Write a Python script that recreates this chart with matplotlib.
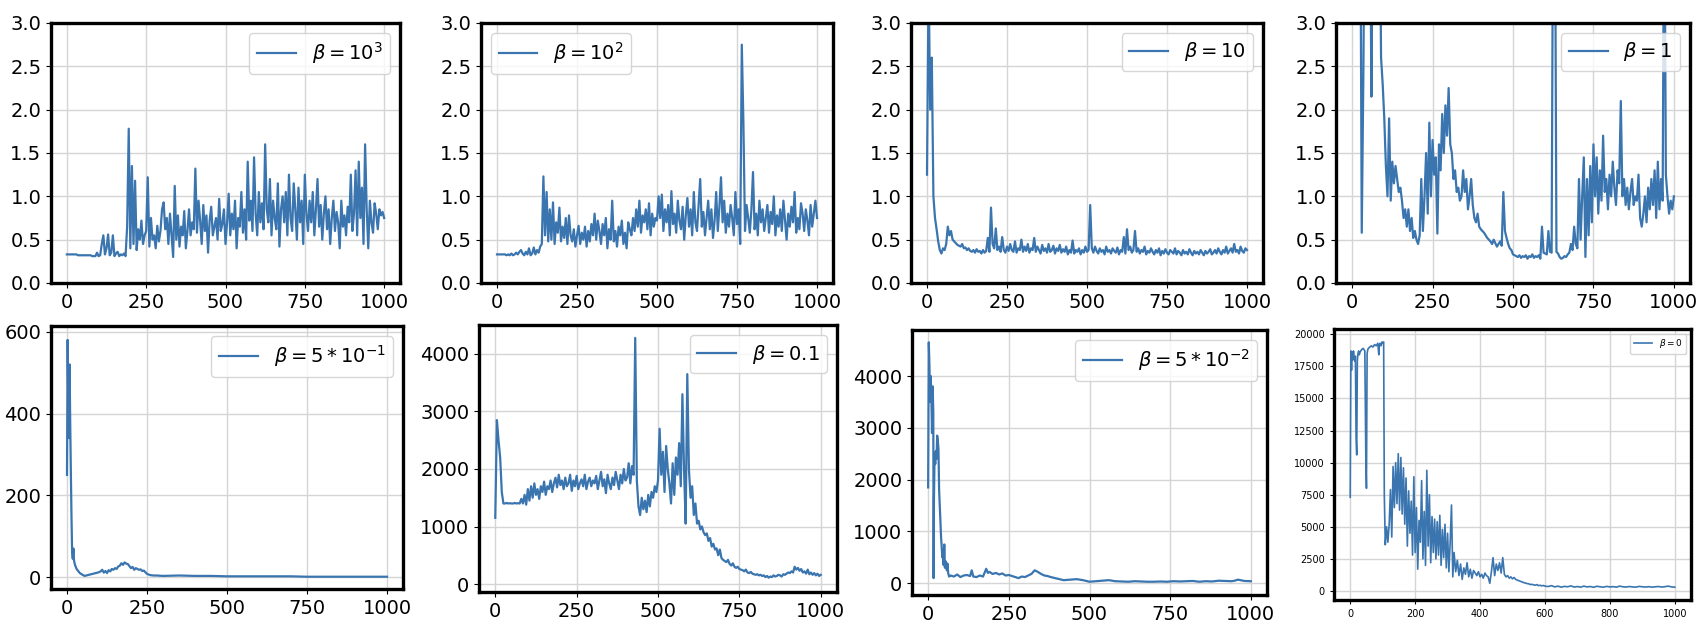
import numpy as np
import matplotlib
matplotlib.use("Agg")
import matplotlib.pyplot as plt
from matplotlib.ticker import MultipleLocator

LINE = '#3a75b0'

# ---- data (step 5 unless given explicit x) ----
labels = [r'$\beta = 10^3$', r'$\beta = 10^2$', r'$\beta = 10$', r'$\beta = 1$',
          r'$\beta = 5*10^{-1}$', r'$\beta = 0.1$', r'$\beta = 5*10^{-2}$', r'$\beta = 0$']

beta_1e3 = [0.33, 0.33, 0.33, 0.33, 0.33, 0.33, 0.33, 0.32, 0.32, 0.32, 0.32, 0.32, 0.32, 0.32, 0.32, 0.32, 0.31, 0.31, 0.31, 0.35, 0.31,
            0.32, 0.45, 0.55, 0.33, 0.40, 0.56, 0.32, 0.35, 0.55, 0.31, 0.34, 0.36, 0.31, 0.33, 0.32, 0.34, 0.31,
            0.65, 1.78, 0.40, 1.35, 0.45, 1.18, 0.38, 0.62, 0.50, 0.72, 0.45, 0.55, 0.60, 1.22, 0.42, 0.75, 0.50, 0.55, 0.40, 0.66, 0.48, 0.60, 0.85, 0.93,
            0.62, 0.75, 0.45, 0.80, 0.55, 0.30, 1.12, 0.50, 0.78, 0.42, 0.65, 0.55, 0.83, 0.40, 0.60, 0.85, 0.55, 0.70, 0.62, 1.32, 0.58, 0.95, 0.72, 0.45,
            0.90, 0.60, 0.78, 0.35, 0.72, 0.88, 0.55, 0.65, 0.75, 0.50, 0.97, 0.60, 0.68, 0.85, 0.45,
            0.70, 1.03, 0.55, 0.80, 0.62, 0.95, 0.40, 0.75, 0.65, 1.05, 0.58, 0.85, 0.50, 1.40, 0.72, 0.95, 0.60, 1.45, 0.80, 0.55,
            1.05, 0.70, 0.92, 0.62, 1.60, 0.85, 0.70, 1.20, 0.55, 0.95, 0.75, 0.62, 1.15, 0.42, 0.85, 1.00, 0.70, 1.05, 0.55, 1.25,
            0.75, 0.60, 1.15, 0.85, 0.50, 1.10, 0.70, 0.95, 0.45, 1.25, 0.80, 0.60, 0.95, 0.70, 1.05, 0.55, 0.85, 1.20, 0.65, 0.90,
            0.50, 0.80, 1.00, 0.62, 0.85, 0.45, 0.75, 0.95, 0.60, 0.82, 0.70, 0.40, 0.95, 0.65, 0.78, 0.55, 0.88, 0.70, 1.25, 0.60,
            0.80, 1.30, 0.55, 1.40, 0.75, 1.10, 0.45, 1.60, 0.85, 0.40, 0.95, 0.70, 0.58, 0.92, 0.80, 0.62, 0.85, 0.78, 0.82, 0.75]

beta_1e2 = [0.33, 0.33, 0.33, 0.33, 0.33, 0.33, 0.32, 0.33, 0.32, 0.34, 0.32, 0.33, 0.35, 0.33, 0.36, 0.38, 0.34, 0.32, 0.36, 0.33,
            0.40, 0.32, 0.34, 0.41, 0.33, 0.38, 0.35, 0.42,
            0.45, 1.23, 0.55, 1.05, 0.48, 0.85, 0.50, 0.93, 0.45, 0.70, 0.58, 0.87, 0.48, 0.65, 0.52, 0.75, 0.45, 0.78, 0.55, 0.48,
            0.62, 0.42, 0.55, 0.66, 0.45, 0.58, 0.50, 0.65, 0.42, 0.60, 0.48, 0.68, 0.55,
            0.80, 0.50, 0.72, 0.60, 0.45, 0.68, 0.55, 0.75, 0.40, 0.62, 0.50, 0.95, 0.48, 0.60, 0.42, 0.65, 0.55, 0.72, 0.45, 0.58,
            0.40, 0.70, 0.62, 0.55, 0.75, 0.60, 0.85, 0.65, 0.95, 0.58, 0.78, 0.70, 0.85, 0.62, 0.92, 0.55, 0.80, 0.65, 0.75, 0.72,
            1.00, 0.75, 1.02, 0.60, 0.85, 0.70, 0.90, 0.55, 1.06, 0.68, 0.80, 0.58, 0.95, 0.72, 0.62, 0.88, 0.50, 0.78, 0.98, 0.65,
            0.85, 0.55, 1.05, 0.70, 0.60, 0.90, 1.20, 0.65, 0.82, 0.55, 0.75, 0.95, 0.62, 0.85, 0.52, 0.72, 1.05, 0.60, 0.88, 1.22,
            0.70, 0.95, 0.58, 0.80, 0.65, 0.90, 0.75, 0.55, 1.05, 0.68, 0.85, 0.45, 2.75, 1.85, 0.60, 0.90, 0.75, 0.58, 0.85, 1.28,
            0.62, 0.80, 0.55, 0.95, 0.70, 0.85, 0.60, 0.75, 0.90, 0.58, 0.82, 0.68, 1.00, 0.55, 0.78, 0.65, 0.85, 0.60, 0.95, 0.72,
            0.50, 0.80, 0.65, 0.88, 0.70, 1.05, 0.58, 0.75, 0.62, 0.92, 0.80, 0.60, 0.85, 0.72, 0.55, 0.90, 0.65, 0.80, 0.95, 0.75]

beta_10 = [1.25, 3.5, 2.0, 2.6, 1.0, 0.75, 0.62, 0.48, 0.38, 0.34, 0.40, 0.38, 0.45, 0.65, 0.55, 0.60, 0.50, 0.48, 0.46, 0.44, 0.43,
           0.42, 0.45, 0.40, 0.41, 0.38, 0.40, 0.37, 0.36, 0.38, 0.35, 0.39, 0.36, 0.37, 0.34, 0.38, 0.35, 0.37, 0.52, 0.36, 0.87,
           0.45, 0.40, 0.63, 0.38, 0.42, 0.36, 0.53, 0.38, 0.35, 0.42, 0.37, 0.45, 0.38, 0.36, 0.48, 0.35, 0.40, 0.38, 0.50, 0.36,
           0.42, 0.37, 0.45, 0.35, 0.40, 0.38, 0.52, 0.36, 0.42, 0.38, 0.34, 0.44, 0.37, 0.40, 0.35, 0.45, 0.36, 0.38, 0.43, 0.34,
           0.40, 0.37, 0.44, 0.35, 0.39, 0.36, 0.42, 0.33, 0.38, 0.35, 0.49, 0.34, 0.38, 0.36, 0.40, 0.33, 0.38, 0.35, 0.42, 0.36,
           0.38, 0.90, 0.40, 0.35, 0.42, 0.37, 0.34, 0.40, 0.36, 0.38, 0.33, 0.42, 0.36, 0.38, 0.34, 0.40, 0.37, 0.35, 0.41, 0.33,
           0.38, 0.36, 0.53, 0.34, 0.62, 0.38, 0.42, 0.35, 0.38, 0.60, 0.36, 0.40, 0.34, 0.38, 0.36, 0.42, 0.33, 0.37, 0.35, 0.40,
           0.36, 0.33, 0.38, 0.35, 0.40, 0.32, 0.37, 0.34, 0.39, 0.35, 0.33, 0.38, 0.36, 0.34, 0.40, 0.33, 0.37, 0.35, 0.32, 0.38,
           0.34, 0.36, 0.33, 0.39, 0.35, 0.32, 0.37, 0.34, 0.36, 0.33, 0.38, 0.35, 0.32, 0.37, 0.34, 0.36, 0.39, 0.33, 0.35, 0.38,
           0.34, 0.40, 0.36, 0.33, 0.38, 0.35, 0.42, 0.34, 0.37, 0.40, 0.35, 0.45, 0.36, 0.38, 0.34, 0.42, 0.37, 0.35, 0.40, 0.38]

beta_1 = [5.0, 5.0, 5.0, 5.0, 5.0, 5.0, 0.58, 2.4, 5.0, 5.0, 5.0, 5.0, 2.15, 5.0, 5.0, 5.0, 5.0, 5.0, 2.6, 2.3, 1.9,
          1.35, 1.0, 1.9, 0.95, 1.4, 1.15, 1.35, 1.2, 1.05, 1.1, 0.95, 0.75, 0.85, 0.65, 0.85, 0.6, 0.75, 0.52, 0.6, 0.5,
          0.45, 0.55, 1.2, 0.6, 1.0, 1.5, 0.8, 1.85, 1.0, 1.65, 1.25, 1.45, 0.57, 1.6, 1.3, 1.95, 1.5, 2.05, 1.7, 2.25,
          1.6, 1.5, 1.2, 1.3, 1.05, 1.1, 0.95, 1.0, 1.3, 1.05, 1.2, 0.85, 1.0, 1.2, 0.9, 0.75, 0.7, 0.8, 0.65, 0.62,
          0.6, 0.58, 0.55, 0.52, 0.5, 0.48, 0.45, 0.5, 0.46, 0.42, 0.45, 0.48, 0.43, 1.05, 0.6, 0.52, 0.45, 0.40, 0.38, 0.33,
          0.32, 0.31, 0.30, 0.32, 0.29, 0.31, 0.30, 0.32, 0.28, 0.31, 0.30, 0.33, 0.29, 0.31, 0.30, 0.32, 0.28, 0.65, 0.35, 0.34,
          0.33, 0.60, 0.36, 0.35, 5.0, 5.0, 0.36, 0.34, 0.30, 0.28, 0.29, 0.31, 0.30, 0.33, 0.35, 0.45, 0.38, 0.65, 0.45, 0.40,
          1.2, 0.5, 1.0, 1.45, 0.3, 1.2, 0.55, 1.35, 0.7, 1.6, 1.0, 1.45, 0.8, 1.3, 0.95, 1.7, 1.05, 1.2, 0.85, 1.25,
          1.0, 1.4, 1.1, 0.9, 1.3, 1.15, 2.1, 1.0, 1.2, 0.9, 1.1, 0.85, 1.05, 1.2, 0.9, 1.0, 0.95, 1.25, 0.75, 0.65,
          0.8, 1.0, 0.7, 1.1, 0.85, 1.2, 0.9, 1.3, 0.75, 1.4, 0.85, 1.2, 0.95, 5.0, 1.25, 1.0, 0.8, 0.95, 0.85, 1.0]

x_half = [0, 2, 4, 6, 8, 10, 12, 14, 16, 18, 20, 22, 25, 30, 35, 40, 50, 55, 60, 70, 80, 90, 100, 105, 110, 115, 120, 125, 130, 135,
          140, 145, 150, 155, 160, 165, 170, 175, 180, 185, 190, 195, 200, 205, 210, 215, 220, 225, 230, 235, 240, 245, 250, 260,
          270, 280, 300, 350, 400, 450, 500, 550, 600, 650, 700, 750, 800, 850, 900, 950, 1000]
beta_half = [250, 580, 420, 340, 520, 380, 260, 150, 60, 45, 70, 40, 30, 20, 15, 10, 5, 3, 4, 6, 8, 10, 12, 14, 18, 11, 15, 10, 17, 14,
             20, 18, 22, 20, 26, 28, 34, 30, 36, 33, 32, 27, 22, 25, 18, 22, 20, 18, 19, 15, 16, 12, 8, 5,
             4, 4, 3, 4, 3, 3, 2, 2, 2, 2, 2, 1, 1, 1, 1, 1, 1]

beta_01 = [1150, 2850, 2500, 2200, 1600, 1400, 1400, 1410, 1400, 1405, 1400, 1400, 1410, 1400, 1405, 1400, 1480, 1400, 1550, 1380, 1650,
           1450, 1700, 1500, 1750, 1550, 1650, 1480, 1700, 1600, 1780, 1550, 1700, 1650, 1800, 1600, 1750, 1850, 1680, 1900, 1720,
           1800, 1650, 1850, 1700, 1750, 1900, 1620, 1800, 1700, 1880, 1650, 1750, 1820, 1700, 1900, 1650, 1780, 1850, 1700, 1800,
           1750, 1880, 1650, 1800, 1950, 1700, 1820, 1580, 1900, 1750, 1650, 1850, 1720, 1950, 1800, 1650, 1900, 1750, 2000, 1800,
           1850, 2100, 1750, 2050, 1900, 4280, 1800, 1350, 1200, 1500, 1300, 1450, 1250, 1550, 1350, 1600, 1500, 1700, 1600, 1800,
           2700, 1900, 2300, 1600, 2400, 2000, 1750, 1400, 2100, 1550, 2200, 1900, 2450, 1700, 3300, 2000, 1050, 3650, 2000, 1500,
           1700, 1200, 1400, 1050, 1100, 950, 1000, 900, 850, 880, 750, 800, 650, 700, 600, 620, 500, 600, 450, 420,
           400, 380, 420, 350, 320, 360, 300, 280, 300, 260, 250, 240, 220, 250, 200, 190, 210, 180, 170, 160,
           170, 150, 160, 140, 150, 120, 140, 110, 130, 120, 150, 130, 140, 160, 150, 130, 170, 160, 180, 200,
           190, 220, 200, 300, 250, 280, 230, 260, 200, 220, 180, 250, 170, 200, 160, 190, 150, 180, 140, 160]

x_5e2 = [0, 2, 4, 6, 8, 10, 12, 14, 16, 17, 18, 20, 22, 24, 26, 28, 30, 32, 34, 36, 38, 40, 42, 44, 46, 48, 50, 52, 55, 58,
         60, 62, 65, 70, 75, 80, 90, 100, 110, 120, 130, 135, 140, 150, 160, 170, 180, 185, 190, 200, 210, 220, 230, 240, 250,
         260, 270, 280, 290, 300, 310, 320, 330, 340, 350, 360, 370, 380, 400, 420, 440, 460, 480, 500, 520, 540, 560, 580, 600,
         620, 640, 660, 680, 700, 720, 740, 760, 780, 800, 820, 840, 860, 880, 900, 920, 940, 950, 960, 980, 1000]
beta_5e2 = [1850, 4650, 4200, 3500, 4000, 3600, 2900, 3800, 3300, 100, 1600, 2500, 2300, 2550, 2400, 2850, 2750, 2600, 1800, 1500,
            1200, 900, 700, 500, 650, 350, 750, 300, 420, 250, 380, 200, 130, 150, 140, 130, 170, 120, 150, 160,
            140, 250, 130, 120, 150, 130, 280, 200, 220, 180, 200, 170, 190, 150, 160, 140, 120, 100, 130, 120,
            150, 180, 250, 220, 180, 150, 140, 120, 90, 60, 70, 80, 60, 30, 40, 50, 60, 40, 35, 30,
            40, 35, 30, 30, 35, 30, 40, 35, 40, 45, 30, 40, 35, 50, 45, 40, 50, 70, 45, 40]

x_zero_head = [0, 2, 4, 6, 8, 10, 12, 14, 16, 18, 20, 22, 24, 26, 28, 30, 35, 40, 45, 48, 50, 52, 54, 56, 60, 65, 70, 75, 80, 85,
               88, 90, 92, 95, 98, 100, 103, 105]
beta_zero_head = [7300, 18700, 17200, 18600, 18000, 18700, 18200, 17900, 18300, 12000, 10600, 18000, 18500, 18700, 18400, 18600,
                  18800, 18900, 18700, 10500, 8000, 18500, 18800, 18900, 19000, 19100, 19000, 19200, 19100, 19300,
                  18400, 19200, 19300, 19100, 19400, 19300, 19400, 7500]
# x = 108..320 every 4
beta_zero_mid = [3600, 5000, 3800, 5200, 7900, 4200, 9700, 6500, 10000, 6800, 10700, 6300, 10400, 6000, 9600, 5200, 8800, 3500,
                 7800, 4500, 7000, 2800, 8900, 3000, 6500, 1700, 5500, 3800, 8600, 2500, 6200, 2000, 9400, 3500, 7500, 2200,
                 5800, 3000, 5600, 2500, 5400, 2800, 5900, 2000, 4800, 2600, 5200, 1800, 4500, 1500, 3800, 6700, 1100, 3000]
# x = 325..600 every 5
beta_zero_tail = [1500, 2400, 1200, 2100, 900, 1800, 1300, 2200, 1100, 1700, 1000, 1600, 1400, 1200, 1500, 1100, 1300, 1000, 1400,
                  1200, 1100, 600, 1500, 2600, 1200, 2100, 1600, 2200, 1400, 2600, 1300, 1100, 1200, 1000, 1100, 950, 1050,
                  900, 850, 800, 750, 700, 650, 620, 580, 560, 500, 520, 480, 450, 500, 420, 450, 400, 430, 380]
# x = 610..1000 every 10
beta_zero_end = [350, 420, 320, 380, 300, 360, 330, 400, 310, 350, 300, 380, 320, 350, 290, 370, 330, 300, 360, 320,
                 340, 300, 380, 330, 310, 350, 320, 300, 360, 330, 310, 340, 300, 330, 350, 310, 340, 380, 320, 300]


def steps(y):
    return np.linspace(0, 1000, len(y))


x_zero = np.concatenate([x_zero_head, np.linspace(108, 320, len(beta_zero_mid)),
                         np.linspace(325, 600, len(beta_zero_tail)), np.linspace(610, 1000, len(beta_zero_end))])
y_zero = np.concatenate([beta_zero_head, beta_zero_mid, beta_zero_tail, beta_zero_end])

series = [
    (steps(beta_1e3), beta_1e3),
    (steps(beta_1e2), beta_1e2),
    (steps(beta_10), beta_10),
    (steps(beta_1), beta_1),
    (x_half, beta_half),
    (steps(beta_01), beta_01),
    (x_5e2, beta_5e2),
    (x_zero, y_zero),
]

# pixel boxes (left, top, right, bottom) of each axes in the 1700x626 canvas
W, H = 1700, 626
boxes = [(51, 23, 400, 283), (481, 23, 833, 283), (911, 23, 1263, 283), (1336, 23, 1690, 283),
         (51, 326, 403, 589), (479, 325, 837, 592), (912, 330, 1267, 595), (1334, 329, 1691, 600)]
ylims = [(0, 3), (0, 3), (0, 3), (0, 3), (-29, 614), (-139, 4504), (-226, 4888), (-700, 20410)]
ysteps = [0.5, 0.5, 0.5, 0.5, 200, 1000, 1000, 2500]
legend_loc = ['upper right', 'upper left', 'upper right', 'upper right',
              'upper right', 'upper right', 'upper right', 'upper right']

fig = plt.figure(figsize=(W / 100, H / 100), dpi=100)

for i, ((x, y), box) in enumerate(zip(series, boxes)):
    l, t, r, b = box
    ax = fig.add_axes([l / W, 1 - b / H, (r - l) / W, (b - t) / H])
    small = (i == 7)
    ax.plot(x, y, color=LINE, lw=1.2 if small else 1.6, label=labels[i])
    ax.set_xlim(-50, 1050)
    ax.set_ylim(*ylims[i])
    ax.yaxis.set_major_locator(MultipleLocator(ysteps[i]))
    ax.grid(True, color='#d5d5d5', lw=1.0)
    ax.set_axisbelow(True)
    for s in ax.spines.values():
        s.set_linewidth(2.4)
        s.set_color('black')
    if small:
        ax.xaxis.set_major_locator(MultipleLocator(200))
        ax.tick_params(labelsize=7, length=3)
        ax.legend(loc=legend_loc[i], fontsize=6.5)
    else:
        ax.xaxis.set_major_locator(MultipleLocator(250))
        ax.tick_params(labelsize=14)
        ax.legend(loc=legend_loc[i], fontsize=14)

fig.savefig('out.png', dpi=100)
